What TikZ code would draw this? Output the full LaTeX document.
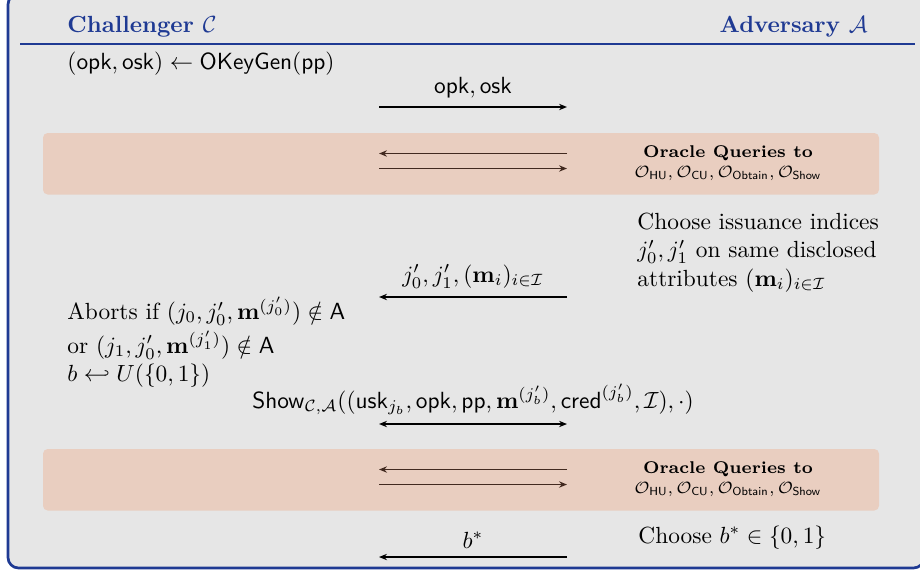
\documentclass[tikz,border=0pt]{standalone}
\usepackage{amsmath,amssymb}
\usetikzlibrary{arrows.meta,positioning,calc}
\definecolor{PgBlue}{RGB}{31,58,147}
\definecolor{PgGray}{RGB}{230,230,230}
\definecolor{PgPeach}{RGB}{233,206,192}
\definecolor{PgBrown}{RGB}{66,42,32}
\tikzset{
  pg/title/.style={font=\bfseries, text=PgBlue, inner sep=0pt},
  pg/text/.style={inner sep=0pt, align=left},
  pg/label/.style={inner sep=0pt},
  pg/oracle/.style={font=\fontsize{7.3pt}{8.6pt}\selectfont, align=center, inner sep=0pt},
  pg/band/.style={fill=PgPeach, rounded corners=2pt},
  pg/frame/.style={fill=PgGray, draw=PgBlue, line width=1.15pt, rounded corners=4.5pt},
  pg/msg/.style={-{Stealth[length=3.4pt,width=2.7pt,inset=1.1pt]}, semithick, draw=black},
  pg/twoway/.style={{Stealth[length=3.4pt,width=2.7pt,inset=1.1pt]}-{Stealth[length=3.4pt,width=2.7pt,inset=1.1pt]}, semithick, draw=black},
  pg/bandmsg/.style={pg/msg, draw=PgBrown}
}
\begin{document}
\begin{tikzpicture}[x=0.428pt,y=-0.428pt]
  \useasboundingbox (0,0) rectangle (920,571);
  % frame and header
  \path[pg/frame] (8,-6) rectangle (924,568);
  \coordinate (ruleL) at (20,44);
  \coordinate (ruleR) at (915,44);
  \draw[PgBlue, line width=0.85pt] (ruleL) -- (ruleR);
  \node[pg/title, anchor=base west] (chal) at (67,33) {Challenger $\mathcal{C}$};
  \node[pg/title, anchor=base east] (adv) at (868,33) {Adversary $\mathcal{A}$};

  % setup
  \node[pg/label, anchor=base west] (keygen) at (67,70)
    {$(\mathsf{opk},\mathsf{osk}) \leftarrow \mathsf{OKeyGen}(\mathsf{pp})$};
  \coordinate (c1) at (379,107);
  \coordinate (a1) at (567,107);
  \draw[pg/msg] (c1) -- (a1)
    node[pg/label, midway, above=3.5pt] (lopk) {$\mathsf{opk},\mathsf{osk}$};

  % oracle phases
  \foreach \top/\nm in {133/one,449/two}{
    \fill[pg/band] (43,\top) rectangle (879,\top+61.5);
    \coordinate (qc\nm) at (379,\top+20.5);
    \coordinate (qa\nm) at (567,\top+20.5);
    \coordinate (rc\nm) at (379,\top+35.5);
    \coordinate (ra\nm) at (567,\top+35.5);
    \draw[pg/bandmsg] (qa\nm) -- (qc\nm);
    \draw[pg/bandmsg] (rc\nm) -- (ra\nm);
    \node[pg/oracle, anchor=north] (oracle\nm) at (728,\top+12)
      {\textbf{Oracle Queries to}\\
       $\mathcal{O}_{\mathsf{HU}},\mathcal{O}_{\mathsf{CU}},\mathcal{O}_{\mathsf{Obtain}},\mathcal{O}_{\mathsf{Show}}$};
  }

  % challenge
  \node[pg/text, anchor=north west] (choose) at (637,213)
    {Choose issuance indices\\
     $j'_0,j'_1$ on same disclosed\\
     attributes $(\mathbf{m}_i)_{i\in\mathcal{I}}$};
  \coordinate (c2) at (379,297);
  \coordinate (a2) at (567,297);
  \draw[pg/msg] (a2) -- (c2)
    node[pg/label, midway, above=3.5pt] (lidx) {$j'_0,j'_1,(\mathbf{m}_i)_{i\in\mathcal{I}}$};
  \node[pg/text, anchor=north west] (abort) at (67,297)
    {Aborts if $(j_0,j'_0,\mathbf{m}^{(j'_0)})\notin\mathsf{A}$\\[2.5pt]
     or $(j_1,j'_0,\mathbf{m}^{(j'_1)})\notin\mathsf{A}$\\
     $b\hookleftarrow U(\{0,1\})$};
  \coordinate (c3) at (379,424);
  \coordinate (a3) at (567,424);
  \draw[pg/twoway] (c3) -- (a3)
    node[pg/label, midway, above=3.5pt] (lshow)
    {$\mathsf{Show}_{\mathcal{C},\mathcal{A}}((\mathsf{usk}_{j_b},\mathsf{opk},\mathsf{pp},\mathbf{m}^{(j'_b)},\mathsf{cred}^{(j'_b)},\mathcal{I}),\cdot)$};

  % guess
  \node[pg/label, anchor=base west] (guess) at (638,543) {Choose $b^*\in\{0,1\}$};
  \coordinate (c4) at (379,557);
  \coordinate (a4) at (567,557);
  \draw[pg/msg] (a4) -- (c4)
    node[pg/label, midway, above=3.5pt] (lguess) {$b^*$};
\end{tikzpicture}
\end{document}
